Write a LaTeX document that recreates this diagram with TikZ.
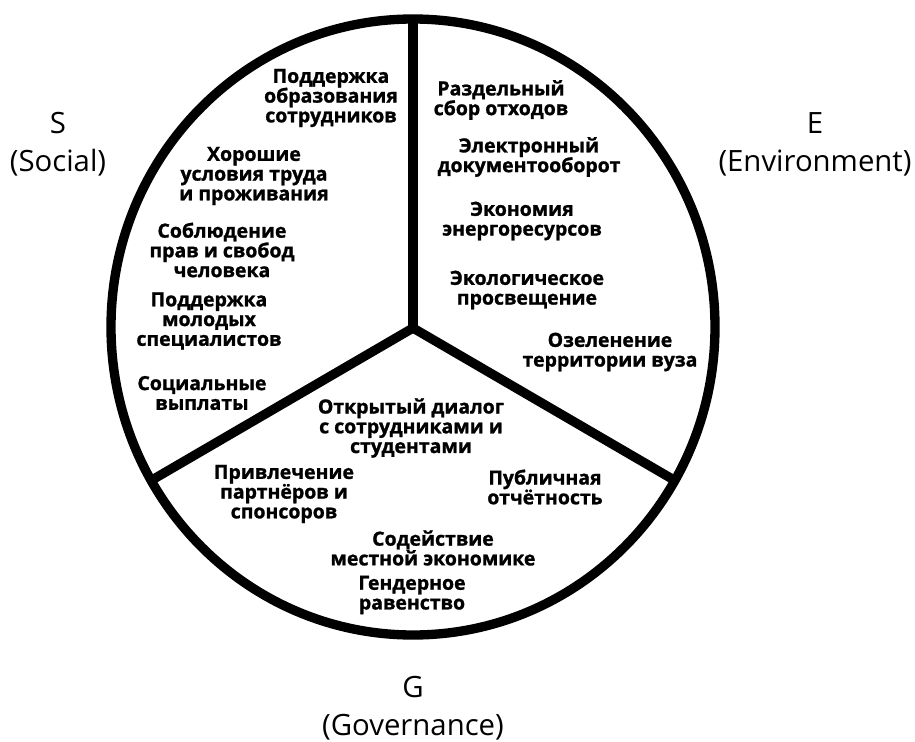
\documentclass[tikz,border=0pt]{standalone}
\usepackage{fontspec}
\setmainfont{Open Sans}
\newfontfamily\heavyfont{Open Sans Bold}[FakeBold=1.2]
\tikzset{
  point/.style={font=\heavyfont\fontsize{14.6}{14.8}\selectfont, align=center, inner sep=0pt},
  side/.style={font=\fontsize{22}{28.5}\selectfont, align=center, inner sep=0pt},
}

\begin{document}
\begin{tikzpicture}[x=0.75pt,y=-0.75pt]
	%%%%% START %%%%%
	\useasboundingbox (0,0) rectangle (915,742);
	
	\coordinate (hub) at (413,328);
	\coordinate (top) at (413,19);
	\coordinate (sw) at (152,480);
	\coordinate (se) at (674,480);
	
	\draw[line width=7pt] (413,327) ellipse (302 and 308);
	\draw[line width=7pt] (hub) -- (top);
	\draw[line width=7pt] (hub) -- (sw);
	\draw[line width=7pt] (hub) -- (se);
	
	% social
	\node[point] (s1) at (331,98) {Поддержка\\образования\\сотрудников};
	\node[point] (s2) at (254,176) {Хорошие\\условия труда\\и проживания};
	\node[point] (s3) at (222,250) {Соблюдение\\прав и свобод\\человека};
	\node[point] (s4) at (209,321) {Поддержка\\молодых\\специалистов};
	\node[point] (s5) at (202,393) {Социальные\\выплаты};
	
	% environment
	\node[point] (e1) at (501,100) {Раздельный\\сбор отходов};
	\node[point] (e2) at (529,157) {Электронный\\документооборот};
	\node[point] (e3) at (522,221) {Экономия\\энергоресурсов};
	\node[point] (e4) at (527,290) {Экологическое\\просвещение};
	\node[point] (e5) at (610,352) {Озеленение\\территории вуза};
	
	% governance
	\node[point] (g1) at (411,428) {Открытый диалог\\с сотрудниками и\\студентами};
	\node[point] (g2) at (284,494) {Привлечение\\партнёров и\\спонсоров};
	\node[point] (g3) at (545,487) {Публичная\\отчётность};
	\node[point] (g4) at (433,548) {Содействие\\местной экономике};
	\node[point] (g5) at (412,595) {Гендерное\\равенство};
	
	\node[side] (S) at (58,144) {S\\(Social)};
	\node[side] (E) at (815,144) {E\\(Environment)};
	\node[side] (G) at (413,708) {G\\(Governance)};
	
	%%%%% END %%%%%
\end{tikzpicture}
\end{document}
